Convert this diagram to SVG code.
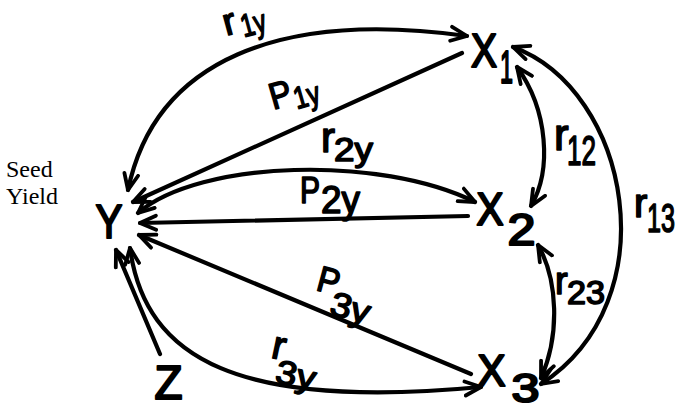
<svg xmlns="http://www.w3.org/2000/svg" width="678" height="409" viewBox="0 0 678 409">
<style>
.n{font-family:"Liberation Sans",Arial,sans-serif;fill:#000;stroke:#000;stroke-width:2.2;stroke-linejoin:round}
.l{font-family:"Liberation Sans",Arial,sans-serif;fill:#000;stroke:#000;stroke-width:1.6;stroke-linejoin:round}
.s{font-family:"Liberation Serif","Times New Roman",serif;fill:#000;font-size:24px}
.e{fill:none;stroke:#000;stroke-width:4.2;stroke-linecap:round}
.d{marker-start:url(#ah);marker-end:url(#ah)}
.a{marker-end:url(#ah)}
</style>
<defs>
<marker id="ah" viewBox="0 0 20 20" refX="18" refY="10" markerWidth="20" markerHeight="20" markerUnits="userSpaceOnUse" orient="auto-start-reverse">
<path d="M2,3 L18,10 L2,17" fill="none" stroke="#000" stroke-width="3.8" stroke-linecap="round" stroke-linejoin="round"/>
</marker>
</defs>
<rect width="678" height="409" fill="#fff"/>
<g id="connectors">
<path id="e-r1y" class="e d" d="M128,190 C155,60 280,10 467,36"/>
<path id="e-p1y" class="e a" d="M462,53 L133,202"/>
<path id="e-r2y" class="e d" d="M138,213 C200,160 380,155 475,202"/>
<path id="e-p2y" class="e a" d="M468,216 L140,223"/>
<path id="e-p3y" class="e a" d="M471,374 L139,235"/>
<path id="e-r3y" class="e d" d="M130,248 C145,360 240,410 481,387"/>
<path id="e-zy" class="e a" d="M160,354 L116,250"/>
<path id="e-r12" class="e d" d="M517,67 C548,110 552,170 531,206"/>
<path id="e-r13" class="e d" d="M513,47 C630,90 670,300 541,384"/>
<path id="e-r23" class="e d" d="M538,245 C558,280 560,335 541,378"/>
</g>
<g id="edge-labels">
<g transform="rotate(-15 236 30)">
<text class="l" x="225" y="33" font-size="38">r</text>
<text class="l" x="242" y="39" font-size="32" textLength="25" lengthAdjust="spacingAndGlyphs">1y</text>
</g>
<g transform="rotate(-16 282 100)">
<text class="l" x="271" y="107" font-size="37" textLength="22" lengthAdjust="spacingAndGlyphs">P</text>
<text class="l" x="294" y="113" font-size="31" textLength="26" lengthAdjust="spacingAndGlyphs">1y</text>
</g>
<text class="l" x="321" y="152" font-size="42">r</text>
<text class="l" x="334" y="161" font-size="33" textLength="39" lengthAdjust="spacingAndGlyphs">2y</text>
<text class="l" x="300" y="203" font-size="36" textLength="20" lengthAdjust="spacingAndGlyphs">P</text>
<text class="l" x="321" y="213" font-size="38" textLength="39" lengthAdjust="spacingAndGlyphs">2y</text>
<g transform="rotate(15 316 290)">
<text class="l" x="315" y="290" font-size="36" textLength="22" lengthAdjust="spacingAndGlyphs">P</text>
<text class="l" x="334" y="310" font-size="34" textLength="40" lengthAdjust="spacingAndGlyphs">3y</text>
</g>
<g transform="rotate(12 272 358)">
<text class="l" x="270" y="358" font-size="40">r</text>
<text class="l" x="279" y="381" font-size="33" textLength="40" lengthAdjust="spacingAndGlyphs">3y</text>
</g>
<text class="l" x="554" y="150" font-size="44">r</text>
<text class="l" x="567" y="165" font-size="42" textLength="29" lengthAdjust="spacingAndGlyphs">12</text>
<text class="l" x="634" y="217" font-size="40">r</text>
<text class="l" x="647" y="232" font-size="40" textLength="28" lengthAdjust="spacingAndGlyphs">13</text>
<text class="l" x="555" y="294" font-size="38">r</text>
<text class="l" x="567" y="304" font-size="33" textLength="38" lengthAdjust="spacingAndGlyphs">23</text>
</g>
<g id="label-seed-yield">
<text class="s" x="6" y="177">Seed</text>
<text class="s" x="6" y="204">Yield</text>
</g>
<g id="node-Y">
<text class="n" x="109" y="238" font-size="48" text-anchor="middle" textLength="27" lengthAdjust="spacingAndGlyphs">Y</text>
</g>
<g id="node-X1">
<text class="n" x="484" y="67" font-size="48" text-anchor="middle" textLength="26" lengthAdjust="spacingAndGlyphs">X</text>
<text class="n" x="500" y="83" font-size="46" textLength="13" lengthAdjust="spacingAndGlyphs">1</text>
</g>
<g id="node-X2">
<text class="n" x="490" y="225" font-size="46" text-anchor="middle" textLength="27" lengthAdjust="spacingAndGlyphs">X</text>
<text class="n" x="521.5" y="245" font-size="44" text-anchor="middle" textLength="28" lengthAdjust="spacingAndGlyphs">2</text>
</g>
<g id="node-X3">
<text class="n" x="491.5" y="386" font-size="44" text-anchor="middle" textLength="28" lengthAdjust="spacingAndGlyphs">X</text>
<text class="n" x="525.5" y="402" font-size="41" text-anchor="middle" textLength="28" lengthAdjust="spacingAndGlyphs">3</text>
</g>
<g id="node-Z">
<text class="n" x="168.5" y="399" font-size="48" text-anchor="middle" textLength="28" lengthAdjust="spacingAndGlyphs">Z</text>
</g>
</svg>
